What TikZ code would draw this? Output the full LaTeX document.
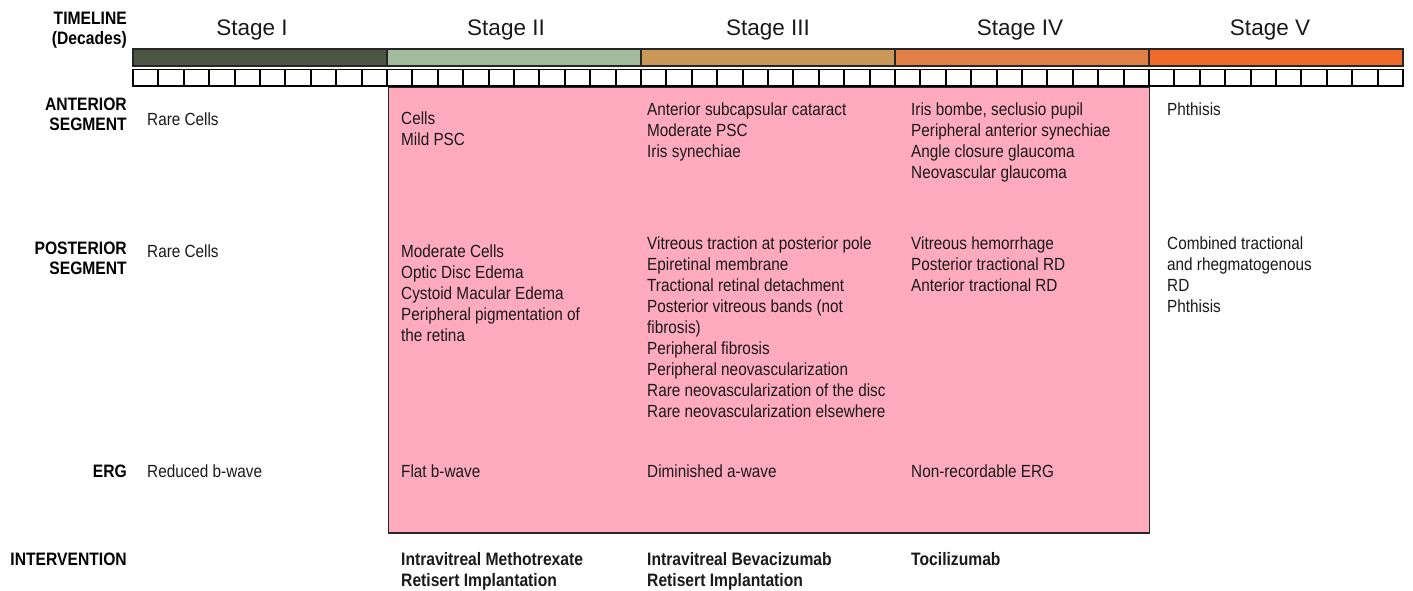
\documentclass[tikz,border=0pt]{standalone}
\usepackage{fontspec}
\setmainfont{Liberation Sans}
\newfontfamily\narrowfont[FakeStretch=0.87]{Liberation Sans}
\usepackage{xcolor}
\definecolor{stageone}{HTML}{4B5645}
\definecolor{stagetwo}{HTML}{A2BB9D}
\definecolor{stagethree}{HTML}{C99858}
\definecolor{stagefour}{HTML}{E08046}
\definecolor{stagefive}{HTML}{EF6B29}
\definecolor{activepink}{HTML}{FFAABD}
\usetikzlibrary{positioning}

\begin{document}
\begin{tikzpicture}[
  x=1pt, y=-1pt,
  heading/.style={font=\narrowfont\bfseries\fontsize{18}{20}\selectfont, align=right, anchor=north east, inner sep=0pt},
  finding/.style={font=\narrowfont\fontsize{17.6}{21}\selectfont, align=left, anchor=north west, inner sep=0pt, text=black!90},
  therapy/.style={finding, font=\narrowfont\bfseries\fontsize{18}{21}\selectfont},
  stagelabel/.style={font=\fontsize{22.5}{24}\selectfont, anchor=base, inner sep=0pt, text=black!90},
  barseg/.style={draw=black!85, line width=2pt},
  tickbox/.style={draw=black, line width=1.9pt, fill=white},
]
\useasboundingbox (0,0) rectangle (1413,591);

% Active period
\draw[fill=activepink, draw=black!85, line width=1.4pt] (388.5,87) rectangle (1149.5,533);

% Timeline bar
\foreach \col/\lab/\lx [count=\n from 0] in {stageone/I/252, stagetwo/II/506, stagethree/III/768, stagefour/IV/1020, stagefive/V/1270}{
  \draw[barseg, fill=\col] ({133+254*\n},49.5) rectangle ({133+254*(\n+1)},66);
  \node[stagelabel] (stage\n) at (\lx,36) {Stage \lab};
}
\foreach \k in {0,...,49}
  \draw[tickbox] ({133+25.4*\k},69.5) rectangle ({133+25.4*(\k+1)},86);

% Row headings
\node[heading] (timehead) at (127,11.5) {TIMELINE\\(Decades)};
\node[heading] (anthead) at (127,98) {ANTERIOR\\SEGMENT};
\node[heading] (posthead) at (127,242) {POSTERIOR\\SEGMENT};
\node[heading] (erghead) at (127,464.5) {ERG};
\node[heading] (interhead) at (127,553) {INTERVENTION};

% Anterior segment
\node[finding] (ant1) at (147,112.5) {Rare Cells};
\node[finding] (ant2) at (401,111.5) {Cells\\Mild PSC};
\node[finding] (ant3) at (647,102.5) {Anterior subcapsular cataract\\Moderate PSC\\Iris synechiae};
\node[finding] (ant4) at (911,102.5) {Iris bombe, seclusio pupil\\Peripheral anterior synechiae\\Angle closure glaucoma\\Neovascular glaucoma};
\node[finding] (ant5) at (1167,102.5) {Phthisis};

% Posterior segment
\node[finding] (post1) at (147,245) {Rare Cells};
\node[finding] (post2) at (401,245) {Moderate Cells\\Optic Disc Edema\\Cystoid Macular Edema\\Peripheral pigmentation of\\the retina};
\node[finding] (post3) at (647,236.5) {Vitreous traction at posterior pole\\Epiretinal membrane\\Tractional retinal detachment\\Posterior vitreous bands (not\\fibrosis)\\Peripheral fibrosis\\Peripheral neovascularization\\Rare neovascularization of the disc\\Rare neovascularization elsewhere};
\node[finding] (post4) at (911,236.5) {Vitreous hemorrhage\\Posterior tractional RD\\Anterior tractional RD};
\node[finding] (post5) at (1167,236.5) {Combined tractional\\and rhegmatogenous\\RD\\Phthisis};

% ERG
\node[finding] (erg1) at (147,464.5) {Reduced b-wave};
\node[finding] (erg2) at (401,464.5) {Flat b-wave};
\node[finding] (erg3) at (647,464.5) {Diminished a-wave};
\node[finding] (erg4) at (911,464.5) {Non-recordable ERG};

% Intervention
\node[therapy] (inter2) at (401,552) {Intravitreal Methotrexate\\Retisert Implantation};
\node[therapy] (inter3) at (647,552) {Intravitreal Bevacizumab\\Retisert Implantation};
\node[therapy] (inter4) at (911,552) {Tocilizumab};

\end{tikzpicture}
\end{document}
